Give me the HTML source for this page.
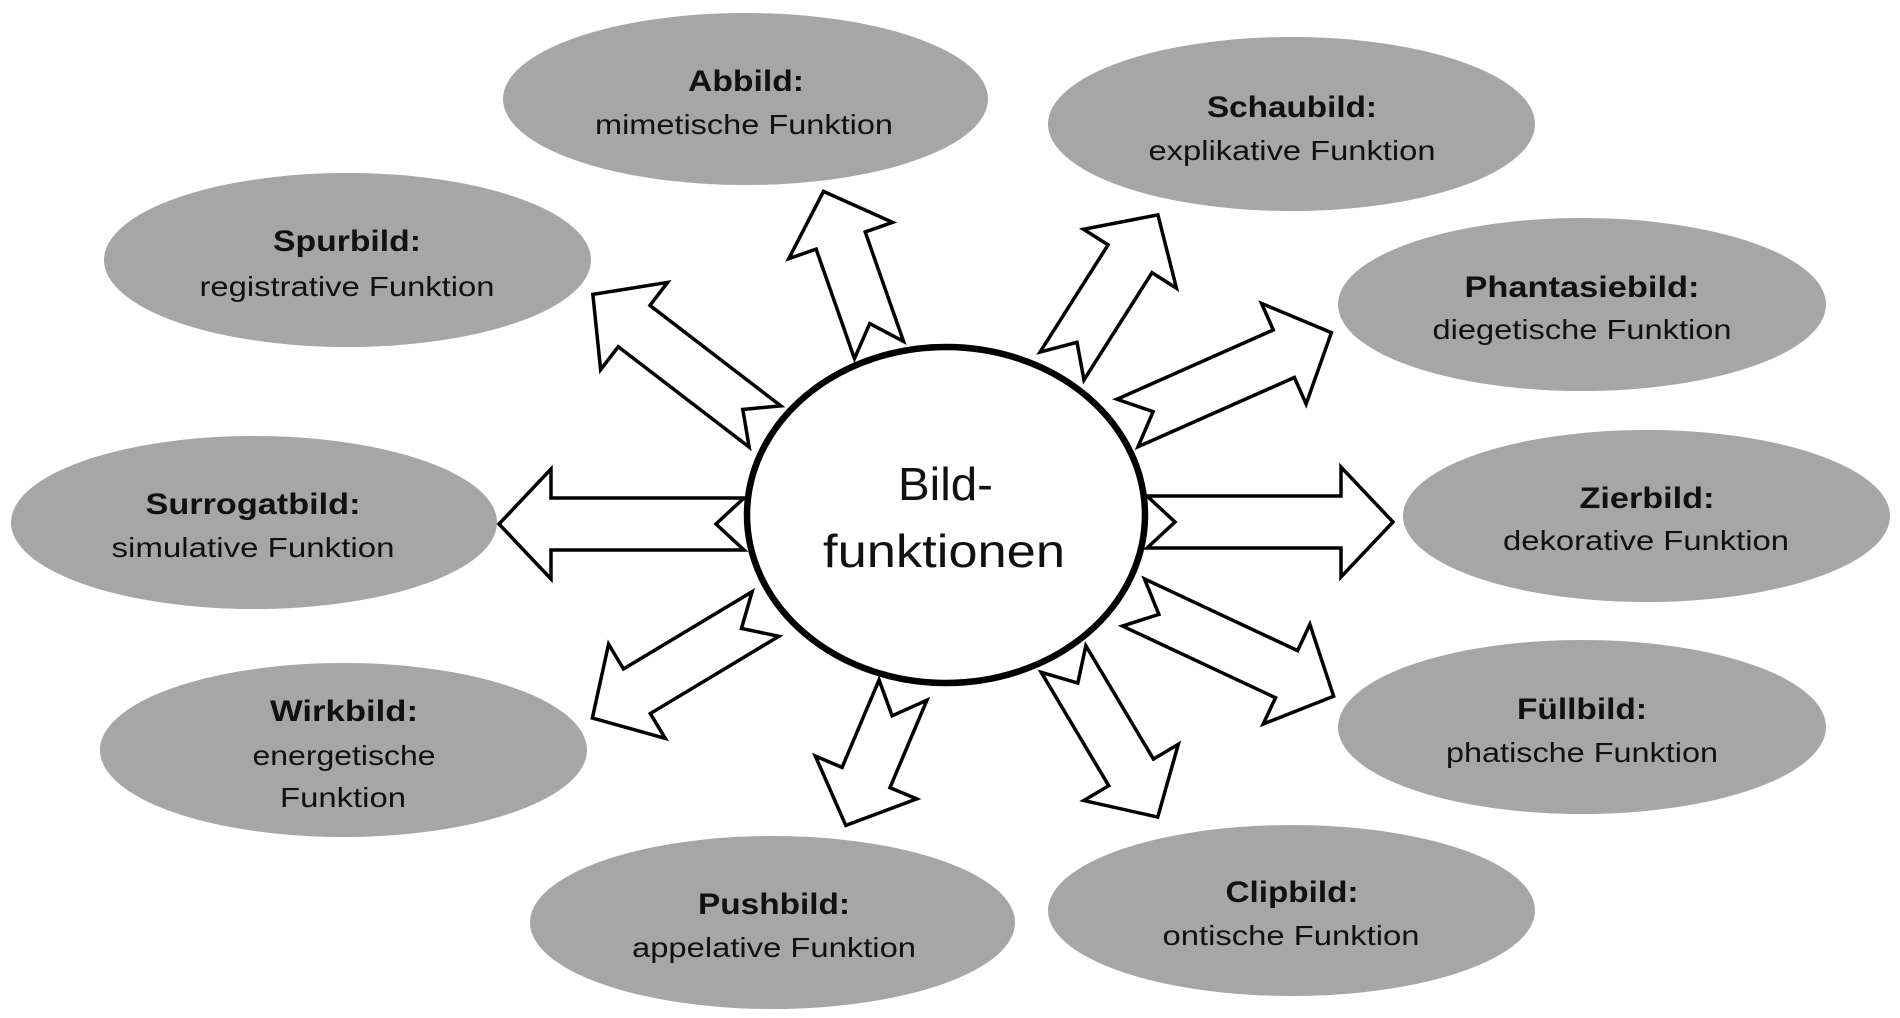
<!DOCTYPE html>
<html>
<head>
<meta charset="utf-8">
<style>
  html, body { margin: 0; padding: 0; background: #ffffff; }
  svg { display: block; }
  .b { font-family: "Liberation Sans", Arial, sans-serif; font-weight: bold; font-size: 30px; fill: #111; }
  .n { font-family: "Liberation Sans", Arial, sans-serif; font-size: 28px; fill: #111; }
  .c { font-family: "Liberation Sans", Arial, sans-serif; font-size: 46px; fill: #111; }
</style>
</head>
<body>
<svg width="1900" height="1018" viewBox="0 0 1900 1018" xmlns="http://www.w3.org/2000/svg">
  <rect x="0" y="0" width="1900" height="1018" fill="#ffffff"/>

  <!-- grey nodes -->
  <g fill="#a6a6a6">
    <ellipse cx="745.5" cy="99" rx="242.5" ry="86"/>
    <ellipse cx="1291.5" cy="124" rx="243.5" ry="87"/>
    <ellipse cx="347.5" cy="260" rx="243.5" ry="87"/>
    <ellipse cx="1582" cy="304.5" rx="244" ry="86.5"/>
    <ellipse cx="254" cy="522.5" rx="243" ry="86.5"/>
    <ellipse cx="1646.5" cy="516" rx="243.5" ry="86"/>
    <ellipse cx="343.5" cy="750" rx="243.5" ry="87"/>
    <ellipse cx="772.5" cy="922.5" rx="242.5" ry="86.5"/>
    <ellipse cx="1582" cy="727" rx="244" ry="87"/>
    <ellipse cx="1291.5" cy="910.5" rx="243.5" ry="85.5"/>
  </g>

  <!-- node labels -->
  <g text-anchor="middle">
    <text class="b" x="746" y="91" textLength="116" lengthAdjust="spacingAndGlyphs">Abbild:</text>
    <text class="n" x="744" y="134" textLength="298" lengthAdjust="spacingAndGlyphs">mimetische Funktion</text>

    <text class="b" x="1292" y="117" textLength="170" lengthAdjust="spacingAndGlyphs">Schaubild:</text>
    <text class="n" x="1292" y="160" textLength="287" lengthAdjust="spacingAndGlyphs">explikative Funktion</text>

    <text class="b" x="347" y="251" textLength="148" lengthAdjust="spacingAndGlyphs">Spurbild:</text>
    <text class="n" x="347" y="296" textLength="295" lengthAdjust="spacingAndGlyphs">registrative Funktion</text>

    <text class="b" x="1582" y="297" textLength="235" lengthAdjust="spacingAndGlyphs">Phantasiebild:</text>
    <text class="n" x="1582" y="339" textLength="299" lengthAdjust="spacingAndGlyphs">diegetische Funktion</text>

    <text class="b" x="253" y="514" textLength="215" lengthAdjust="spacingAndGlyphs">Surrogatbild:</text>
    <text class="n" x="253" y="557" textLength="283" lengthAdjust="spacingAndGlyphs">simulative Funktion</text>

    <text class="b" x="1647" y="508" textLength="135" lengthAdjust="spacingAndGlyphs">Zierbild:</text>
    <text class="n" x="1646" y="550" textLength="286" lengthAdjust="spacingAndGlyphs">dekorative Funktion</text>

    <text class="b" x="344" y="721" textLength="148" lengthAdjust="spacingAndGlyphs">Wirkbild:</text>
    <text class="n" x="344" y="765" textLength="183" lengthAdjust="spacingAndGlyphs">energetische</text>
    <text class="n" x="343" y="807" textLength="126" lengthAdjust="spacingAndGlyphs">Funktion</text>

    <text class="b" x="774" y="914" textLength="152" lengthAdjust="spacingAndGlyphs">Pushbild:</text>
    <text class="n" x="774" y="957" textLength="284" lengthAdjust="spacingAndGlyphs">appelative Funktion</text>

    <text class="b" x="1582" y="719" textLength="130" lengthAdjust="spacingAndGlyphs">Füllbild:</text>
    <text class="n" x="1582" y="762" textLength="272" lengthAdjust="spacingAndGlyphs">phatische Funktion</text>

    <text class="b" x="1292" y="902" textLength="133" lengthAdjust="spacingAndGlyphs">Clipbild:</text>
    <text class="n" x="1291" y="945" textLength="257" lengthAdjust="spacingAndGlyphs">ontische Funktion</text>
  </g>

  <!-- block arrows -->
  <g fill="#ffffff" stroke="#000000" stroke-width="3.5" stroke-linejoin="miter" stroke-miterlimit="10">
    <!-- Zierbild -->
    <polygon transform="translate(1147,522) rotate(0)" points="0,-26 194,-26 194,-55 246,0 194,55 194,26 0,26 28,0"/>
    <!-- Surrogatbild -->
    <polygon transform="translate(744,524) rotate(180)" points="0,-26 193,-26 193,-55 245,0 193,55 193,26 0,26 28,0"/>
    <!-- Abbild -->
    <polygon transform="translate(879,350) rotate(-109.3)" points="0,-26 116,-26 116,-55 168,0 116,55 116,26 0,26 28,0"/>
    <!-- Spurbild -->
    <polygon transform="translate(765,426.5) rotate(-142.5)" points="0,-26 165,-26 165,-55 217,0 165,55 165,26 0,26 28,0"/>
    <!-- Schaubild -->
    <polygon transform="translate(1062,366) rotate(-57.6)" points="0,-26 127,-26 127,-55 179,0 127,55 127,26 0,26 28,0"/>
    <!-- Phantasiebild -->
    <polygon transform="translate(1127.5,423) rotate(-23.9)" points="0,-26 171,-26 171,-55 223,0 171,55 171,26 0,26 28,0"/>
    <!-- Füllbild -->
    <polygon transform="translate(1133.5,602.5) rotate(25.1)" points="0,-26 169,-26 169,-55 221,0 169,55 169,26 0,26 28,0"/>
    <!-- Clipbild -->
    <polygon transform="translate(1063.5,659) rotate(59.2)" points="0,-26 132,-26 132,-55 184,0 132,55 132,26 0,26 28,0"/>
    <!-- Pushbild -->
    <polygon transform="translate(903,690) rotate(112.9)" points="0,-26 95,-26 95,-55 147,0 95,55 95,26 0,26 28,0"/>
    <!-- Wirkbild -->
    <polygon transform="translate(765.5,614) rotate(149)" points="0,-26 150,-26 150,-55 202,0 150,55 150,26 0,26 28,0"/>
  </g>

  <!-- central ellipse -->
  <ellipse cx="946" cy="515" rx="199" ry="168" fill="#ffffff" stroke="#000000" stroke-width="6.5"/>
  <g text-anchor="middle">
    <text class="c" x="945.5" y="500" textLength="95" lengthAdjust="spacingAndGlyphs">Bild-</text>
    <text class="c" x="944" y="567" textLength="242" lengthAdjust="spacingAndGlyphs">funktionen</text>
  </g>
</svg>
</body>
</html>
